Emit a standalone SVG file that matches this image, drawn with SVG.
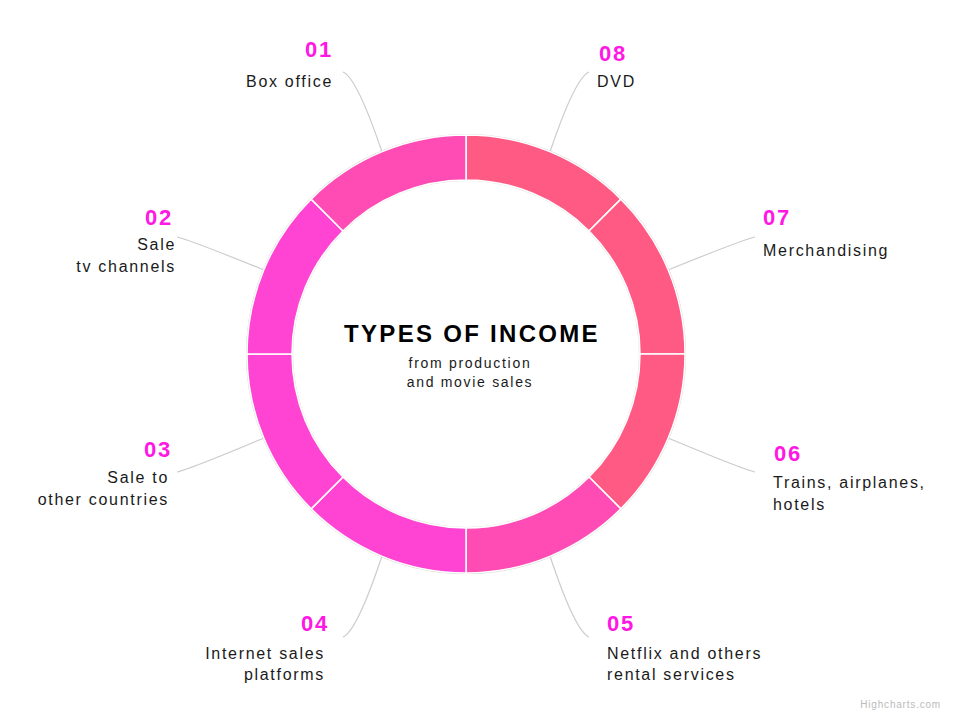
<svg xmlns="http://www.w3.org/2000/svg" width="953" height="715" viewBox="0 0 953 715">
<style>
.num{font-family:"Liberation Sans",Arial,sans-serif;font-weight:bold;font-size:22px;fill:#ff17e4;letter-spacing:1.8px}
.lbl{font-family:"Liberation Sans",Arial,sans-serif;font-size:16px;fill:#1a1a1a;letter-spacing:1.7px}
.end{text-anchor:end}
.seg{stroke:#ffffff;stroke-width:1.5;stroke-linejoin:round}
.a{fill:#ff44d4}.b{fill:#ff4cb4}.c{fill:#ff5a84}
.conn path{fill:none;stroke:#cccccc;stroke-width:1.2}
</style>
<rect width="953" height="715" fill="#ffffff"/>
<g id="ring-edge">
<circle cx="466" cy="354" r="219.5" fill="none" stroke="#d6d6d6" stroke-width="1.2"/>
<circle cx="466" cy="354" r="173.5" fill="none" stroke="#dddddd" stroke-width="1.2"/>
</g>
<g class="conn" id="connectors">
<path d="M343,72 Q357,78 382,152"/>
<path d="M589,72 Q575,78 550,152"/>
<path d="M177,237 Q190,240 264,270"/>
<path d="M755,237 Q742,240 668,270"/>
<path d="M177,472 Q190,469 264,438"/>
<path d="M755,472 Q742,469 668,438"/>
<path d="M343,637 Q357,631 382,556"/>
<path d="M589,637 Q575,631 550,556"/>
</g>
<g id="seg08"><path class="seg c" d="M466,135 A219,219 0 0 1 620.86,199.14 L589.04,230.96 A174,174 0 0 0 466,180 Z"/></g>
<g id="seg07"><path class="seg c" d="M620.86,199.14 A219,219 0 0 1 685,354 L640,354 A174,174 0 0 0 589.04,230.96 Z"/></g>
<g id="seg06"><path class="seg c" d="M685,354 A219,219 0 0 1 620.86,508.86 L589.04,477.04 A174,174 0 0 0 640,354 Z"/></g>
<g id="seg05"><path class="seg b" d="M620.86,508.86 A219,219 0 0 1 466,573 L466,528 A174,174 0 0 0 589.04,477.04 Z"/></g>
<g id="seg04"><path class="seg a" d="M466,573 A219,219 0 0 1 311.14,508.86 L342.96,477.04 A174,174 0 0 0 466,528 Z"/></g>
<g id="seg03"><path class="seg a" d="M311.14,508.86 A219,219 0 0 1 247,354 L292,354 A174,174 0 0 0 342.96,477.04 Z"/></g>
<g id="seg02"><path class="seg a" d="M247,354 A219,219 0 0 1 311.14,199.14 L342.96,230.96 A174,174 0 0 0 292,354 Z"/></g>
<g id="seg01"><path class="seg b" d="M311.14,199.14 A219,219 0 0 1 466,135 L466,180 A174,174 0 0 0 342.96,230.96 Z"/></g>

<g id="title">
<text x="472" y="342" text-anchor="middle" font-family="'Liberation Sans',Arial,sans-serif" font-weight="bold" font-size="24" letter-spacing="2.3" fill="#000000">TYPES OF INCOME</text>
<text x="470" y="368" text-anchor="middle" font-family="'Liberation Sans',Arial,sans-serif" font-size="14" letter-spacing="1.7" fill="#1a1a1a">from production</text>
<text x="470" y="387" text-anchor="middle" font-family="'Liberation Sans',Arial,sans-serif" font-size="14" letter-spacing="1.7" fill="#1a1a1a">and movie sales</text>
</g>

<g id="label01">
<text class="num end" x="333" y="57">01</text>
<text class="lbl end" x="333" y="87">Box office</text>
</g>
<g id="label08">
<text class="num" x="599" y="61">08</text>
<text class="lbl" x="597" y="87">DVD</text>
</g>
<g id="label02">
<text class="num end" x="173" y="225">02</text>
<text class="lbl end" x="176" y="250">Sale</text>
<text class="lbl end" x="176" y="272">tv channels</text>
</g>
<g id="label07">
<text class="num" x="763" y="225">07</text>
<text class="lbl" x="763" y="256">Merchandising</text>
</g>
<g id="label03">
<text class="num end" x="172" y="457">03</text>
<text class="lbl end" x="169" y="483">Sale to</text>
<text class="lbl end" x="169" y="505">other countries</text>
</g>
<g id="label06">
<text class="num" x="774" y="461">06</text>
<text class="lbl" x="773" y="488">Trains, airplanes,</text>
<text class="lbl" x="773" y="510">hotels</text>
</g>
<g id="label04">
<text class="num end" x="329" y="631">04</text>
<text class="lbl end" x="325" y="659">Internet sales</text>
<text class="lbl end" x="325" y="680">platforms</text>
</g>
<g id="label05">
<text class="num" x="607" y="631">05</text>
<text class="lbl" x="607" y="659">Netflix and others</text>
<text class="lbl" x="607" y="680">rental services</text>
</g>
<g id="credit">
<text x="941" y="708" text-anchor="end" font-family="'Liberation Sans',Arial,sans-serif" font-size="10" letter-spacing="0.8" fill="#bbbbbb">Highcharts.com</text>
</g>
</svg>
